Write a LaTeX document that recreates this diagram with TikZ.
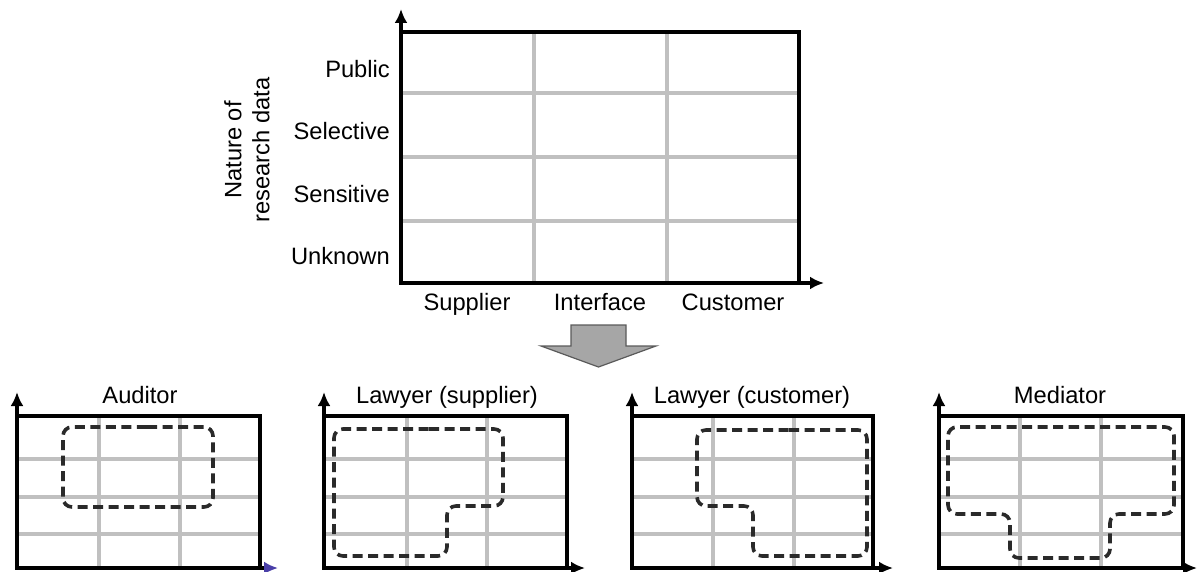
\documentclass[tikz,border=0pt]{standalone}
\usepackage{fontspec}
\setmainfont{Liberation Sans}
\usetikzlibrary{arrows.meta}
\definecolor{gridgray}{HTML}{C0C0C0}
\definecolor{dashgray}{HTML}{2A2A2A}
\definecolor{arrowfill}{HTML}{A6A6A6}
\definecolor{arrowline}{HTML}{5A5A5A}
\definecolor{tipblue}{HTML}{4A3FA8}

% small matrix panel: #1 id, #2 left x, #3 right x, #4/#5 inner column lines, #6 x-axis tip, #7 tip colour
\newcommand\drawpanel[7]{%
  \foreach \yy in {459,497,534} \draw[gridline] (#2,\yy) -- (#3,\yy);
  \foreach \xx in {#4,#5} \draw[gridline] (\xx,416) -- (\xx,568);
  \coordinate (#1-o) at (#2,568);
  \coordinate (#1-c) at (#2-1.75,568);
  \coordinate (#1-tl) at (#2,416);
  \coordinate (#1-tr) at (#3,416);
  \coordinate (#1-br) at (#3,568);
  \coordinate (#1-y) at (#2,392);
  \coordinate (#1-x) at (#6,568);
  \draw[frame] (#1-tl) -- (#1-tr) -- (#1-br);
  \draw[axis] (#1-o) -- (#1-y);
  \draw[frame, -{Latex[length=14pt,width=13pt,color=#7]}] (#1-c) -- (#1-x);
}

\begin{document}
\begin{tikzpicture}[x=1pt,y=-1pt,
  txt/.style={font=\fontsize{23.7}{28}\selectfont, inner sep=0pt},
  gridline/.style={gridgray, line width=3.2pt},
  frame/.style={black, line width=3.5pt},
  axis/.style={black, line width=3.5pt, -{Latex[length=14pt,width=13pt]}},
  region/.style={dashgray, line width=3.6pt, dash pattern=on 10pt off 5.5pt, rounded corners=9pt},
]
\useasboundingbox (0,0) rectangle (1198,572);

% ---- main matrix ----
\foreach \yy in {93,157,221} \draw[gridline] (401,\yy) -- (799,\yy);
\foreach \xx in {534,667} \draw[gridline] (\xx,32) -- (\xx,283);
\coordinate (m-o) at (401,283);
\coordinate (m-c) at (399.25,283);
\coordinate (m-tl) at (401,32);
\coordinate (m-tr) at (799,32);
\coordinate (m-br) at (799,283);
\coordinate (m-y) at (401,9);
\coordinate (m-x) at (824,283);
\draw[frame] (m-tl) -- (m-tr) -- (m-br);
\draw[axis] (m-o) -- (m-y);
\draw[axis] (m-c) -- (m-x);

\node[txt, anchor=base east] (rPub) at (390,78) {Public};
\node[txt, anchor=base east] (rSel) at (390,140) {Selective};
\node[txt, anchor=base east] (rSen) at (390,202) {Sensitive};
\node[txt, anchor=base east] (rUnk) at (390,264) {Unknown};
\node[txt, rotate=90, align=center] (ylab) at (247,150) {Nature of\\research data};

\node[txt, anchor=base] (cSup) at (467,310) {Supplier};
\node[txt, anchor=base] (cInt) at (600,310) {Interface};
\node[txt, anchor=base] (cCus) at (733,310) {Customer};

% ---- transition arrow ----
\draw[fill=arrowfill, draw=arrowline, line width=1.2pt]
  (571,325) -- (626,325) -- (626,346) -- (656,346) -- (598.5,367)
  -- (541,346) -- (571,346) -- cycle;

% ---- role panels ----
\drawpanel{aud}{17}{260}{99}{180}{278}{tipblue}
\drawpanel{lsu}{324}{567}{407}{487}{585}{black}
\drawpanel{lcu}{632}{873}{713}{794}{893}{black}
\drawpanel{med}{939}{1183}{1020}{1101}{1197}{black}

\node[txt, anchor=base] (tAud) at (140,403) {Auditor};
\node[txt, anchor=base] (tLsu) at (447,403) {Lawyer (supplier)};
\node[txt, anchor=base] (tLcu) at (752,403) {Lawyer (customer)};
\node[txt, anchor=base] (tMed) at (1060,403) {Mediator};

\draw[region] (138,427) -- (213,427) -- (213,507) -- (63,507) -- (63,427) -- cycle;
\draw[region] (420,429) -- (503,429) -- (503,506) -- (447,506) -- (447,556)
  -- (334,556) -- (334,429) -- cycle;
\draw[region] (780,430) -- (867,430) -- (867,556) -- (753,556) -- (753,506)
  -- (697,506) -- (697,430) -- cycle;
\draw[region] (1060,427) -- (1174,427) -- (1174,514) -- (1110,514) -- (1110,558)
  -- (1010,558) -- (1010,514) -- (948,514) -- (948,427) -- cycle;
\end{tikzpicture}
\end{document}
